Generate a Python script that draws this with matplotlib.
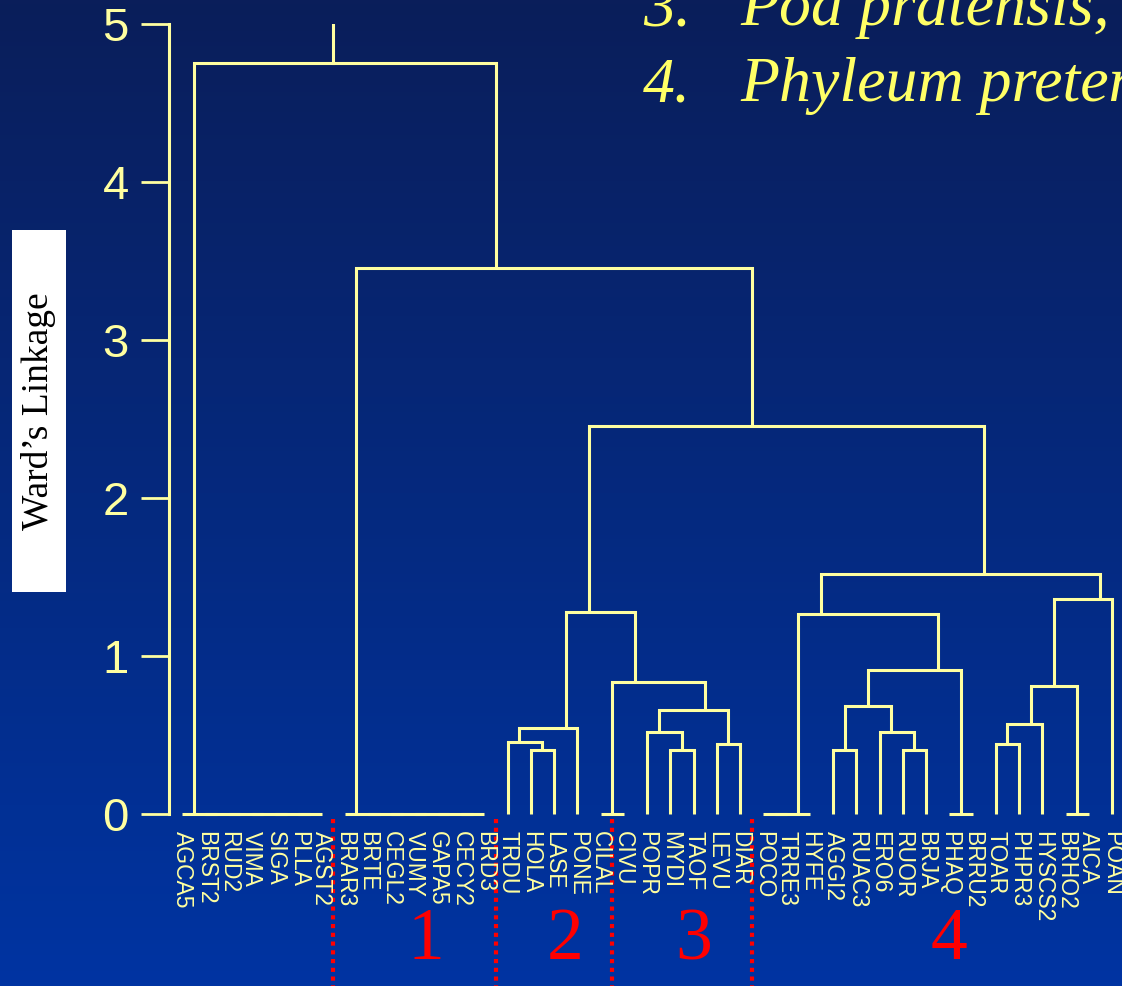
import matplotlib.pyplot as plt
import numpy as np
from matplotlib.colors import LinearSegmentedColormap
from matplotlib.patches import Rectangle

plt.rcParams['font.family'] = ['Liberation Sans', 'DejaVu Sans']

leaves = ["AGCA5", "BRST2", "RUD2", "VIMA", "SIGA", "PLLA", "AGST2",
          "BRAR3", "BRTE", "CEGL2", "VUMY", "GAPA5", "CECY2", "BRD3",
          "TRDU", "HOLA", "LASE", "PONE", "CILAL",
          "CIVU", "POPR", "MYDI", "TAOF", "LEVU", "DIAR",
          "POCO", "TRRE3", "HYFE", "AGGI2", "RUAC3", "ERO6", "RUOR", "BRJA",
          "PHAQ", "BRRU2", "TOAR", "PHPR3", "HYSCS2", "BRHO2", "AICA", "POAN"]

# merges: leaves are 0..40, each merge makes node 41, 42, ...
merge_left = [5, 4, 3, 2, 1, 0,
              12, 11, 10, 9, 8, 7,
              15, 14, 54,
              18, 21, 20, 23, 58, 56, 55,
              25, 63, 28, 31, 30, 65, 33, 68, 64,
              35, 72, 38, 73, 75, 71,
              62, 52, 46]
merge_right = [6, 41, 42, 43, 44, 45,
               13, 47, 48, 49, 50, 51,
               16, 53, 17,
               19, 22, 57, 24, 59, 60, 61,
               26, 27, 29, 32, 66, 67, 34, 69, 70,
               36, 37, 39, 74, 40, 76,
               77, 78, 79]
merge_height = [0, 0, 0, 0, 0, 0,
                0, 0, 0, 0, 0, 0,
                0.405, 0.456, 0.544,
                0, 0.408, 0.521, 0.446, 0.658, 0.833, 1.28,
                0, 0, 0.408, 0.408, 0.521, 0.685, 0, 0.911, 1.266,
                0.446, 0.570, 0, 0.812, 1.359, 1.522,
                2.456, 3.456, 4.753]
top_height = 5.0

cluster_names = ["1", "2", "3", "4"]
cluster_first = [7, 14, 19, 25]

W, H = 1122, 986
line_c = "#ffffa0"
fig = plt.figure(figsize=(W / 100, H / 100), dpi=100)

# blue slide background
bg = fig.add_axes([0, 0, 1, 1])
grad = np.linspace(0, 1, 256).reshape(-1, 1)
cmap = LinearSegmentedColormap.from_list("bg", ["#0a1e5a", "#0034a2"])
bg.imshow(grad, aspect="auto", cmap=cmap, extent=[0, 1, 0, 1], origin="upper")
bg.set_axis_off()

ax = fig.add_axes([169 / W, 0, 1 - 169 / W, 1 - 24 / H])
ax.set_facecolor("none")
ax.set_xlim(-0.56, 40.43)
ybot = -(986 - 814) / 158
ax.set_ylim(ybot, top_height)

n = len(leaves)
pos = {i: float(i) for i in range(n)}
hgt = {i: 0.0 for i in range(n)}
hi = {i: i for i in range(n)}
for k, (l, r, h) in enumerate(zip(merge_left, merge_right, merge_height)):
    node = n + k
    ax.plot([pos[l], pos[l], pos[r], pos[r]], [hgt[l], h, h, hgt[r]],
            color=line_c, lw=2.2, solid_joinstyle="miter", solid_capstyle="butt")
    # joining stem sits in the gap between the two children
    pos[node] = hi[l] + 0.5
    hgt[node] = h
    hi[node] = hi[r]
root = n + len(merge_height) - 1
ax.plot([pos[root], pos[root]], [hgt[root], top_height], color=line_c, lw=2.2)

for i, name in enumerate(leaves):
    ax.text(i, -0.11, name, rotation=270, ha="center", va="top",
            fontsize=16.5, color=line_c)

ends = cluster_first[1:] + [n]
for name, f, e in zip(cluster_names, cluster_first, ends):
    ax.plot([f - 0.5, f - 0.5], [-0.03, ybot], color="#ff0000", lw=3,
            linestyle=(0, (1, 1.1)), dash_capstyle="butt")
    ax.text((f + e) / 2, -0.918, name, color="#ff0000", fontsize=53,
            family="Liberation Serif", ha="center", va="baseline")

ax.set_yticks(range(6))
ax.set_xticks([])
ax.tick_params(axis="y", length=20, width=2, color=line_c, labelcolor=line_c,
               labelsize=34, pad=9)
for s in ["top", "right", "bottom"]:
    ax.spines[s].set_visible(False)
ax.spines["left"].set_bounds(0, top_height)
ax.spines["left"].set_color(line_c)
ax.spines["left"].set_linewidth(2.2)

fig.patches.append(Rectangle((12 / W, 1 - 592 / H), 54 / W, 362 / H,
                             transform=fig.transFigure, facecolor="white",
                             edgecolor="none"))
fig.text(39 / W, 1 - 411 / H, "Ward\u2019s Linkage", rotation=90, ha="center",
         va="center", family="Liberation Serif", fontsize=27, color="black")

for num, species, base in [("3.", "Poa pratensis,", 25), ("4.", "Phyleum pretense", 101)]:
    fig.text(643 / W, 1 - base / H, num, family="Liberation Serif", style="italic",
             fontsize=46, color="#ffff66", va="baseline")
    fig.text(740 / W, 1 - base / H, species, family="Liberation Serif",
             style="italic", fontsize=46, color="#ffff66", va="baseline")

fig.savefig("out.png", dpi=100)
